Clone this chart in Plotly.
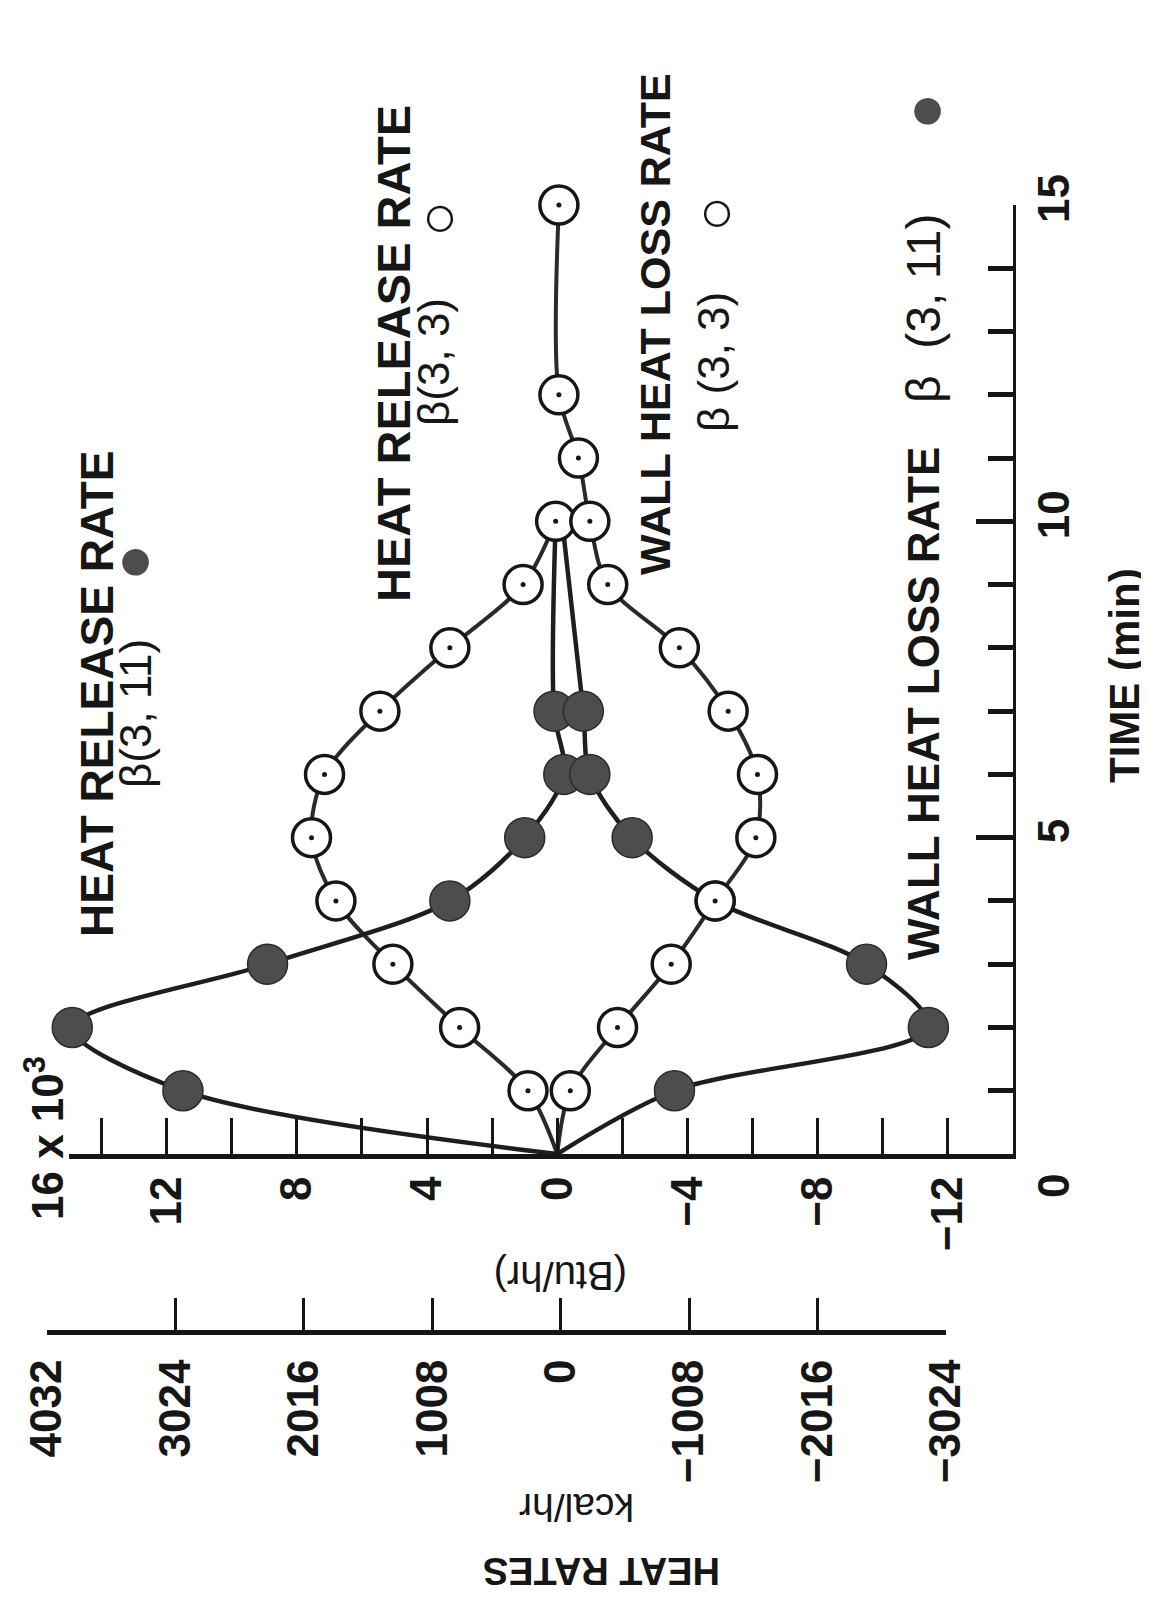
import plotly.graph_objects as go

# ---------------- data (heat rates in 10^3 Btu/hr, time in min) ----------------
time_hr_b311 = [0, 1, 2, 3, 4, 5, 6, 7, 10]
heat_release_b311 = [0, 11.5, 14.9, 8.9, 3.3, 1.0, -0.2, 0.1, 0.05]

time_wl_b311 = [0, 1, 2, 3, 4, 5, 6, 7, 10]
wall_loss_b311 = [0, -3.6, -11.4, -9.5, -4.85, -2.3, -1.0, -0.8, -0.15]

time_hr_b33 = [0, 1, 2, 3, 4, 5, 6, 7, 8, 9, 10]
heat_release_b33 = [0, 0.9, 3.0, 5.05, 6.8, 7.55, 7.15, 5.45, 3.3, 1.05, 0.05]

time_wl_b33 = [0, 1, 2, 3, 4, 5, 6, 7, 8, 9, 10, 11, 12, 15]
wall_loss_b33 = [0, -0.4, -1.85, -3.5, -4.85, -6.1, -6.15, -5.25, -3.75, -1.55,
                 -1.0, -0.65, -0.05, -0.05]

btu_range = [15, -14]          # 10^3 Btu/hr
kcal_range = [4032, -3024]     # kcal/hr
kcal_step = 1008
time_range = [0, 15]
time_tick_vals = [5, 10, 15]
time_tick_text = ["5", "10", "15"]

# ---------------- geometry (page pixels; the page body has an 8px margin) ----------------
OFF = 8
PX0, PX1 = 20, 1013      # paper left / right (page px)
PY0, PY1 = 205, 1332     # paper top / bottom (page px)
W, H = 1149 - OFF, 1600 - OFF


def px(X):
    return (X - PX0) / (PX1 - PX0)


def py(Y):
    return (PY1 - Y) / (PY1 - PY0)


INK = "#161616"
FILL = "#4d4d4d"
FONT = "Liberation Sans, Arial, sans-serif"

fig = go.Figure()

# smooth curves -------------------------------------------------------------
for t, v in [(time_hr_b33, heat_release_b33), (time_wl_b33, wall_loss_b33)]:
    fig.add_trace(go.Scatter(x=v, y=t, mode="lines",
                             line=dict(color="#2a2a2a", width=4, shape="spline", smoothing=0.9),
                             hoverinfo="skip", showlegend=False))
for t, v in [(time_hr_b311, heat_release_b311), (time_wl_b311, wall_loss_b311)]:
    fig.add_trace(go.Scatter(x=v, y=t, mode="lines",
                             line=dict(color="#1e1e1e", width=4.5, shape="spline", smoothing=0.9),
                             hoverinfo="skip", showlegend=False))

# filled markers beta(3,11) ---------------------------------------------------
for t, v in [(time_hr_b311, heat_release_b311), (time_wl_b311, wall_loss_b311)]:
    fig.add_trace(go.Scatter(x=v[1:8], y=t[1:8], mode="markers", cliponaxis=False,
                             marker=dict(size=40, color=FILL, line=dict(color="#2b2b2b", width=1.5)),
                             hoverinfo="skip", showlegend=False))

# open markers beta(3,3) with centre dot --------------------------------------
for t, v in [(time_hr_b33, heat_release_b33), (time_wl_b33, wall_loss_b33)]:
    fig.add_trace(go.Scatter(x=v[1:], y=t[1:], mode="markers", cliponaxis=False,
                             marker=dict(size=38, color="white", line=dict(color=INK, width=3.5)),
                             hoverinfo="skip", showlegend=False))
    fig.add_trace(go.Scatter(x=v[1:], y=t[1:], mode="markers", cliponaxis=False,
                             marker=dict(size=5, color=INK),
                             hoverinfo="skip", showlegend=False))

# invisible trace that carries the kcal/hr scale
fig.add_trace(go.Scatter(x=kcal_range, y=[0, 0], xaxis="x2", yaxis="y", mode="markers",
                         marker=dict(opacity=0), hoverinfo="skip", showlegend=False))

tickfont = dict(family=FONT, size=44, color=INK, weight="bold")

fig.update_layout(
    width=W, height=H,
    margin=dict(l=PX0 - OFF, r=W - (PX1 - OFF), t=PY0 - OFF, b=H - (PY1 - OFF), pad=0,
                autoexpand=False),
    paper_bgcolor="white", plot_bgcolor="rgba(0,0,0,0)",
    showlegend=False,
    xaxis=dict(domain=[px(69), 1], range=btu_range, anchor="y", automargin=False,
               showline=True, linecolor=INK, linewidth=5,
               ticks="inside", ticklen=36, tickwidth=2.5, tickcolor=INK,
               tickmode="linear", tick0=0, dtick=4, tickangle=-90,
               tickfont=tickfont, ticklabelstandoff=0,
               minor=dict(tickmode="linear", tick0=0, dtick=2, ticks="inside",
                          ticklen=36, tickwidth=2.5, tickcolor=INK, showgrid=False),
               showgrid=False, zeroline=False),
    xaxis2=dict(domain=[px(47), px(946)], range=kcal_range, anchor="free", position=0,
                automargin=False,
                showline=True, linecolor=INK, linewidth=5,
                ticks="inside", ticklen=32, tickwidth=3, tickcolor=INK,
                tickmode="linear", tick0=0, dtick=kcal_step, tickformat="d", tickangle=-90,
                tickfont=tickfont, ticklabelstandoff=7,
                showgrid=False, zeroline=False),
    yaxis=dict(domain=[py(1154), 1], range=time_range, anchor="x", side="right",
               automargin=False,
               showline=True, linecolor=INK, linewidth=3,
               ticks="inside", ticklen=37, tickwidth=4.5, tickcolor=INK,
               tickmode="array", tickvals=[0] + time_tick_vals, ticktext=[""] + time_tick_text,
               tickangle=-90, tickfont=tickfont, ticklabelstandoff=0,
               minor=dict(tickmode="linear", tick0=0, dtick=1, ticks="inside",
                          ticklen=25, tickwidth=4.5, tickcolor=INK, showgrid=False),
               showgrid=False, zeroline=False),
)


def label(text, X, Y, size=46, angle=-90, color=INK, weight="normal"):
    fig.add_annotation(text=text, x=px(X), y=py(Y), xref="paper", yref="paper",
                       showarrow=False, textangle=angle, xanchor="center", yanchor="middle",
                       font=dict(family=FONT, size=size, color=color, weight=weight))


label("0", 1053, 1186, size=44, weight="bold")
label("16 x 10<sup>3</sup>", 44, 1138, size=44, weight="bold")

label("HEAT RELEASE RATE", 97, 694, size=46, weight="bold")
label("β(3, 11)", 135, 714, size=44)
label("●", 131, 563, size=62, color=FILL)

label("HEAT RELEASE RATE", 393, 354, size=47, weight="bold")
label("β(3, 3)", 434, 362, size=44)
label("○", 437, 219, size=60)

label("WALL HEAT LOSS RATE", 655, 324, size=43, weight="bold")
label("β (3, 3)", 714, 362, size=44)
label("○", 714, 214, size=60)

label("WALL HEAT LOSS RATE", 923, 704, size=44, weight="bold")
label("β  (3, 11)", 923, 309, size=48)
label("●", 923, 112, size=62, color=FILL)

label("TIME (min)", 1124, 676, size=42, weight="bold")
label("(Btu/hr)", 561, 1276, size=40, angle=180)
label("kcal/hr", 577, 1508, size=39, angle=180)
label("HEAT RATES", 602, 1571, size=38, angle=180, weight="bold")

fig.write_html("out.html")
